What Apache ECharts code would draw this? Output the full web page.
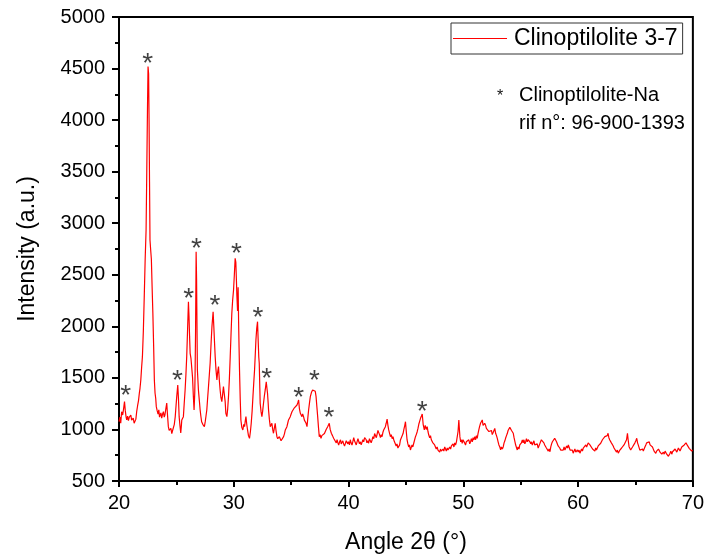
<!DOCTYPE html>
<html>
<head>
<meta charset="utf-8">
<script src="https://cdn.jsdelivr.net/npm/echarts@6/dist/echarts.min.js"></script>
<style>html,body{margin:0;padding:0;background:#fff;}#c{width:707px;height:559px;}</style>
</head>
<body>
<div id="c"></div>
<script>
// 2θ angles and intensities
const angles = [20.0,20.08,20.15,20.23,20.32,20.4,20.48,20.55,20.62,20.67,20.75,20.82,20.9,20.96,21.03,21.1,21.16,21.24,21.32,21.4,21.47,21.54,21.62,21.7,21.77,21.83,21.9,21.97,22.04,22.12,22.2,22.28,22.36,22.42,22.48,22.53,22.58,22.62,22.66,22.7,22.76,22.82,22.88,22.95,23.02,23.08,23.14,23.2,23.25,23.33,23.4,23.47,23.53,23.58,23.65,23.72,23.8,23.87,23.94,24.0,24.08,24.16,24.22,24.3,24.37,24.45,24.52,24.6,24.67,24.74,24.82,24.9,24.97,25.03,25.12,25.18,25.24,25.31,25.38,25.43,25.47,25.54,25.61,25.68,25.76,25.83,25.9,25.97,26.05,26.1,26.15,26.2,26.27,26.34,26.41,26.48,26.54,26.6,26.63,26.67,26.72,26.76,26.78,26.83,26.92,27.0,27.07,27.13,27.2,27.3,27.37,27.44,27.52,27.58,27.65,27.72,27.8,27.87,27.94,28.03,28.1,28.2,28.26,28.32,28.38,28.45,28.53,28.6,28.67,28.74,28.81,28.88,28.96,29.03,29.1,29.15,29.19,29.25,29.31,29.36,29.4,29.47,29.54,29.62,29.69,29.76,29.83,29.9,29.98,30.05,30.12,30.18,30.23,30.27,30.33,30.38,30.42,30.46,30.5,30.56,30.62,30.7,30.79,30.87,30.94,31.0,31.06,31.13,31.2,31.28,31.37,31.45,31.52,31.6,31.67,31.74,31.81,31.87,31.93,32.0,32.07,32.13,32.18,32.22,32.27,32.3,32.38,32.45,32.52,32.59,32.66,32.74,32.83,32.89,32.94,33.0,33.03,33.1,33.18,33.25,33.32,33.39,33.46,33.53,33.61,33.68,33.76,33.83,33.9,33.97,34.05,34.12,34.2,34.27,34.34,34.42,34.49,34.56,34.63,34.7,34.77,34.85,34.92,35.0,35.07,35.14,35.21,35.28,35.36,35.43,35.51,35.58,35.65,35.72,35.8,35.87,35.94,36.0,36.08,36.15,36.23,36.3,36.38,36.45,36.52,36.6,36.67,36.77,36.87,36.95,37.02,37.1,37.17,37.24,37.31,37.38,37.45,37.52,37.6,37.67,37.74,37.82,37.9,37.98,38.05,38.12,38.18,38.25,38.32,38.4,38.5,38.6,38.7,38.78,38.85,38.93,39.0,39.07,39.14,39.22,39.3,39.36,39.43,39.5,39.57,39.65,39.72,39.8,39.87,39.93,40.0,40.08,40.15,40.22,40.3,40.37,40.45,40.52,40.6,40.67,40.74,40.82,40.88,40.95,41.03,41.1,41.18,41.25,41.32,41.4,41.47,41.54,41.6,41.68,41.75,41.82,41.9,41.97,42.05,42.12,42.2,42.27,42.34,42.42,42.5,42.56,42.63,42.7,42.78,42.85,42.92,42.99,43.06,43.14,43.21,43.28,43.36,43.43,43.5,43.58,43.65,43.72,43.8,43.87,43.94,44.0,44.08,44.15,44.22,44.3,44.37,44.45,44.52,44.6,44.67,44.75,44.82,44.9,44.96,45.03,45.1,45.17,45.24,45.31,45.39,45.46,45.53,45.6,45.68,45.76,45.83,45.9,45.98,46.05,46.12,46.2,46.27,46.35,46.42,46.5,46.6,46.68,46.77,46.85,46.92,46.99,47.07,47.14,47.21,47.28,47.35,47.42,47.5,47.57,47.64,47.72,47.79,47.86,47.94,48.01,48.08,48.16,48.23,48.3,48.38,48.45,48.52,48.6,48.67,48.74,48.81,48.89,48.96,49.03,49.1,49.18,49.25,49.32,49.4,49.47,49.54,49.61,49.66,49.7,49.77,49.84,49.9,49.97,50.04,50.11,50.19,50.26,50.34,50.41,50.48,50.56,50.63,50.7,50.78,50.85,50.92,51.0,51.07,51.14,51.21,51.28,51.35,51.42,51.5,51.57,51.65,51.72,51.79,51.86,51.94,52.01,52.09,52.16,52.23,52.3,52.38,52.45,52.52,52.6,52.67,52.74,52.82,52.89,52.96,53.03,53.1,53.18,53.25,53.32,53.4,53.48,53.55,53.62,53.68,53.76,53.83,53.9,53.97,54.05,54.12,54.2,54.27,54.35,54.42,54.5,54.56,54.63,54.7,54.77,54.85,54.92,54.99,55.06,55.14,55.21,55.28,55.36,55.43,55.5,55.57,55.65,55.72,55.8,55.87,55.94,56.01,56.08,56.15,56.22,56.3,56.37,56.44,56.52,56.59,56.66,56.73,56.8,56.88,56.95,57.02,57.09,57.16,57.24,57.32,57.4,57.47,57.55,57.62,57.69,57.76,57.83,57.9,57.96,58.05,58.12,58.19,58.26,58.33,58.4,58.48,58.56,58.63,58.7,58.78,58.85,58.92,59.0,59.08,59.15,59.22,59.3,59.35,59.42,59.5,59.57,59.64,59.72,59.8,59.87,59.94,60.01,60.08,60.16,60.23,60.3,60.38,60.45,60.52,60.6,60.67,60.74,60.81,60.88,60.95,61.03,61.1,61.19,61.26,61.32,61.39,61.46,61.53,61.6,61.68,61.75,61.82,61.9,61.97,62.04,62.12,62.19,62.26,62.33,62.4,62.47,62.54,62.61,62.68,62.76,62.83,62.9,62.99,63.06,63.13,63.2,63.28,63.35,63.42,63.5,63.57,63.64,63.72,63.79,63.86,63.93,64.0,64.08,64.15,64.22,64.3,64.36,64.44,64.5,64.58,64.68,64.74,64.81,64.88,64.95,65.03,65.11,65.18,65.24,65.31,65.38,65.46,65.55,65.62,65.68,65.75,65.82,65.9,65.97,66.05,66.12,66.2,66.27,66.34,66.41,66.48,66.54,66.62,66.7,66.77,66.84,66.92,67.0,67.07,67.14,67.22,67.29,67.36,67.43,67.5,67.58,67.65,67.72,67.8,67.87,67.94,68.01,68.08,68.16,68.23,68.3,68.38,68.45,68.52,68.6,68.67,68.74,68.81,68.88,68.96,69.03,69.1,69.18,69.25,69.33,69.4,69.48,69.55,69.62,69.68,69.76,69.83,69.9,69.97,70.0];
const intensity = [1075,1120,1060,1172,1140,1200,1270,1180,1120,1092,1130,1085,1120,1108,1140,1090,1075,1110,1060,1043,1100,1172,1230,1280,1350,1399,1480,1600,1706,1950,2288,2650,2934,3500,4100,4520,4450,4000,3400,2838,2740,2650,2400,2129,1800,1480,1353,1300,1221,1180,1150,1190,1120,1124,1160,1110,1150,1172,1120,1140,1200,1256,1150,1027,990,978,1010,960,990,995,1050,1124,1230,1318,1431,1300,1124,1040,965,1030,1092,1080,1124,1250,1383,1530,1706,1950,2239,2100,1900,1738,1690,1706,1500,1318,1189,1350,1548,1950,2724,2450,2190,1577,1383,1280,1189,1130,1075,1050,1060,1027,1080,1130,1189,1300,1420,1530,1642,1850,2000,2142,2000,1850,1706,1580,1480,1560,1609,1480,1383,1310,1269,1340,1415,1430,1399,1270,1156,1140,1124,1200,1318,1500,1706,1920,2126,2250,2352,2500,2660,2620,2450,2300,2150,2380,2050,1800,1577,1300,1092,1020,995,1050,1027,1080,1124,1050,995,940,914,980,1060,1180,1318,1450,1577,1720,1868,1980,2045,1850,1700,1642,1400,1254,1170,1124,1180,1254,1320,1383,1463,1400,1351,1250,1189,1100,1027,1040,1060,1000,963,1010,1060,990,930,910,898,930,914,890,881,900,930,960,995,1010,1027,1060,1092,1100,1124,1150,1172,1160,1189,1210,1221,1210,1237,1260,1286,1200,1156,1170,1124,1150,1124,1090,1108,1060,1027,1110,1189,1260,1318,1360,1383,1390,1399,1370,1318,1220,1124,1020,930,950,914,940,946,930,960,978,1000,990,1027,1040,1060,1000,963,940,914,930,898,870,900,870,849,880,900,860,866,890,860,840,849,890,900,860,881,850,900,870,849,880,920,890,881,850,880,910,898,860,880,850,866,900,880,920,930,900,870,890,866,910,900,870,898,930,910,960,946,920,960,990,978,950,920,950,930,970,995,1010,1027,1060,1100,1040,995,960,930,950,910,930,900,880,866,840,860,820,801,850,898,920,930,960,1000,1040,1075,980,898,860,830,850,801,820,850,830,866,900,930,950,978,1010,1050,1080,1108,1130,1150,1050,995,1040,1000,1027,980,946,920,940,900,898,870,880,850,833,810,830,800,801,780,810,790,784,810,790,830,817,790,820,800,801,830,810,840,833,860,830,870,849,880,898,980,1092,1000,930,880,900,866,900,914,870,849,880,898,870,900,860,881,910,880,920,898,930,900,940,914,960,995,1030,1060,1050,1092,1040,1027,1060,1040,1010,995,1020,980,990,963,990,950,970,978,1010,960,940,914,880,850,830,801,830,810,833,870,890,914,940,960,990,995,1020,1011,990,1000,963,920,880,849,830,801,830,810,850,833,870,898,870,900,860,881,910,880,900,914,880,860,880,849,870,890,850,866,840,860,820,833,860,880,900,914,890,870,849,830,820,801,790,810,784,830,860,881,900,880,914,914,880,870,840,849,820,800,810,784,800,830,800,817,840,820,849,830,800,817,790,800,770,784,810,780,790,801,780,800,770,784,810,790,820,817,830,850,830,849,870,881,850,860,833,810,820,801,790,820,800,817,840,830,850,866,880,900,890,914,930,920,946,940,963,920,898,880,870,866,840,820,810,801,780,800,770,784,800,790,820,817,830,850,840,866,900,963,900,833,820,800,801,830,820,849,870,890,914,870,850,833,800,790,784,810,790,801,830,850,870,881,860,880,850,866,840,830,817,790,800,769,790,780,810,801,780,790,760,752,780,760,790,784,760,770,740,752,770,790,760,784,800,780,810,801,780,800,820,817,790,800,830,817,840,850,866,870,881,840,830,817,800,820,790,801,790];
// peak markers (*) positions
const peakAngles = [20.58,22.5,25.09,26.08,26.75,28.35,30.24,32.1,32.86,35.65,37.02,38.3,46.41];
const peakLabelY = [1320,4540,1470,2260,2750,2190,2700,2075,1485,1300,1470,1105,1170];
const xTicks = [20,30,40,50,60,70];
const yTicks = [500,1000,1500,2000,2500,3000,3500,4000,4500,5000];

const chart = echarts.init(document.getElementById('c'), null, {renderer:'canvas'});
const font = 'Liberation Sans, Arial, sans-serif';
const lineData = angles.map((a,i)=>[a,intensity[i]]);
const starData = peakAngles.map((a,i)=>[a,peakLabelY[i]]);

const axisLineStyle = {color:'#000',width:2};
chart.setOption({
  animation:false,
  backgroundColor:'#fff',
  grid:{left:119,right:14,top:17,bottom:78,show:true,borderColor:'#000',borderWidth:2,containLabel:false},
  legend:{
    data:['Clinoptilolite 3-7'],
    left:451, top:23,
    padding:[4,5,4,2],
    borderColor:'#333', borderWidth:1,
    itemWidth:54, itemHeight:1,
    icon:'rect',
    textStyle:{fontFamily:font,fontSize:23,color:'#000',padding:[0,0,0,2]}
  },
  xAxis:[{
    type:'value', min:20, max:70, interval:10,
    name:'Angle 2θ (°)', nameLocation:'middle', nameGap:50,
    nameTextStyle:{fontFamily:font,fontSize:23,color:'#000'},
    axisLine:{show:true,onZero:false,lineStyle:axisLineStyle},
    axisTick:{show:true,length:6,lineStyle:axisLineStyle},
    axisLabel:{fontFamily:font,fontSize:20,color:'#000',margin:12,formatter:v=>xTicks.includes(v)?String(v):''},
    splitLine:{show:false}
  },{
    type:'value', min:20, max:70, interval:5, position:'bottom',
    axisLine:{show:false,onZero:false},
    axisTick:{show:true,length:4,lineStyle:axisLineStyle},
    axisLabel:{show:false},
    splitLine:{show:false}
  }],
  yAxis:[{
    type:'value', min:500, max:5000, interval:500,
    name:'Intensity (a.u.)', nameLocation:'middle', nameGap:80,
    nameTextStyle:{fontFamily:font,fontSize:23,color:'#000'},
    axisLine:{show:true,onZero:false,lineStyle:axisLineStyle},
    axisTick:{show:true,length:7,lineStyle:axisLineStyle},
    axisLabel:{fontFamily:font,fontSize:20,color:'#000',margin:14,formatter:v=>yTicks.includes(v)?String(v):''},
    splitLine:{show:false}
  },{
    type:'value', min:500, max:5000, interval:250, position:'left',
    axisLine:{show:false,onZero:false},
    axisTick:{show:true,length:4,lineStyle:axisLineStyle},
    axisLabel:{show:false},
    splitLine:{show:false}
  }],
  series:[
    {
      name:'Clinoptilolite 3-7', type:'line', data:lineData,
      showSymbol:false, symbol:'none',
      lineStyle:{color:'#ff0000',width:1.2},
      itemStyle:{color:'#ff0000'}
    },
    {
      name:'peaks', type:'scatter', data:starData,
      symbol:'circle', symbolSize:2, itemStyle:{color:'rgba(0,0,0,0)'},
      label:{show:true,formatter:'*',position:[1,1],align:'center',verticalAlign:'middle',offset:[0,7],fontFamily:font,fontSize:28,color:'#111'},
      labelLayout:{hideOverlap:false},
      silent:true
    }
  ],
  graphic:[
    {type:'text',left:497,top:89,style:{text:'*',font:'16px '+font,fill:'#111'}},
    {type:'text',left:519,top:85,style:{text:'Clinoptilolite-Na',font:'20px '+font,fill:'#000'}},
    {type:'text',left:519,top:113,style:{text:'rif n°: 96-900-1393',font:'20px '+font,fill:'#000'}}
  ]
});
</script>
</body>
</html>
